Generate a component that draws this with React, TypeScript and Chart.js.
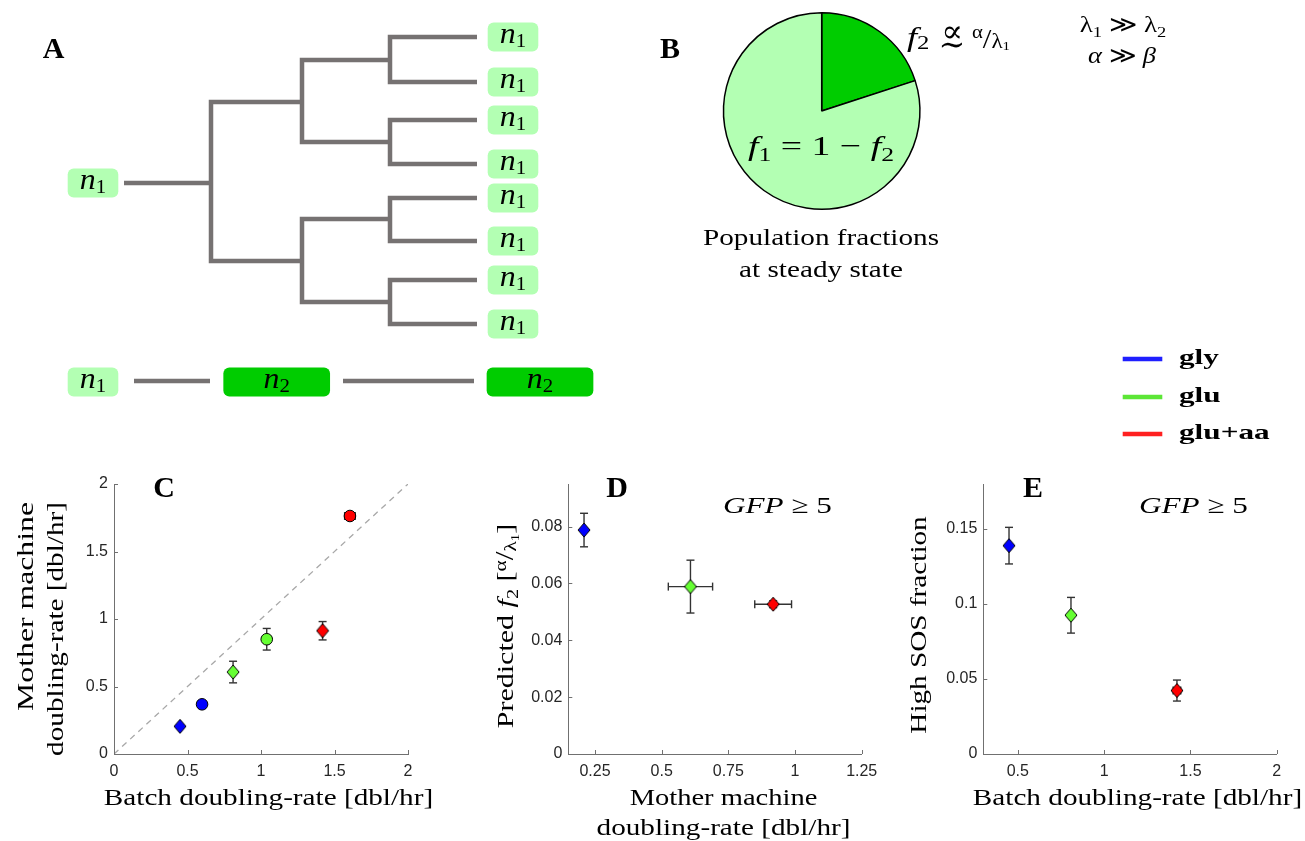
import React, { useEffect, useRef } from 'react';
import { Chart, registerables } from 'chart.js';

Chart.register(...registerables);

const SERIF = '"Liberation Serif", "DejaVu Serif", serif';
const SANS = '"Liberation Sans", "DejaVu Sans", Arial, sans-serif';
const AXIS = '#707070';
const TICK_TEXT = '#262626';
const TREE_GRAY = '#767272';
const LIGHT_GREEN = '#b3ffb3';
const DARK_GREEN = '#00cc00';

// ---------- Panel A: lineage tree (diagram units) ----------
const treeGenX = [124, 211, 302, 390, 477];
const treeRootY = 183;
const treeGen2Y = [102, 261];
const treeGen3Y = [60, 142, 219, 302];
const treeLeafY = [37, 82, 120, 164, 198, 241, 280, 324];
const rootBoxX = 93;
const leafBoxX = 513;
const bottomRowY = 381;
const bottomLinks = [[134, 210], [343, 474]];
const bottomBoxX = [93, 276.7, 540];
const bottomStates = [1, 2, 2];

// ---------- Panel B: pie ----------
const pieLabels = ['f2', 'f1'];
const pieValues = [0.2, 0.8];
const pieColors = [DARK_GREEN, LIGHT_GREEN];

// ---------- Conditions ----------
const conditions = ['gly', 'glu', 'glu+aa'];
const markerColors = ['#0000ff', '#66ff33', '#ff0000'];
const legendColors = ['#1f1fff', '#5ce636', '#ff2020'];

// ---------- Panel C ----------
const cDiamondX = [0.449, 0.81, 1.419];
const cDiamondY = [0.205, 0.607, 0.913];
const cDiamondXErr = [0, 0, 0];
const cDiamondYErr = [0.012, 0.08, 0.068];
const cCircleX = [0.599, 1.039, 1.605];
const cCircleY = [0.368, 0.85, 1.763];
const cCircleXErr = [0.01, 0.005, 0.036];
const cCircleYErr = [0.02, 0.08, 0.02];
const cIdentity = [0, 2];
const cTicks = [0, 0.5, 1, 1.5, 2];
const cTickLabels = ['0', '0.5', '1', '1.5', '2'];

// ---------- Panel D ----------
const dX = [0.209, 0.608, 0.918];
const dY = [0.0788, 0.0589, 0.0527];
const dXErr = [0.003, 0.083, 0.069];
const dYErr = [0.0059, 0.0093, 0.0012];
const dXTicks = [0.25, 0.5, 0.75, 1, 1.25];
const dXTickLabels = ['0.25', '0.5', '0.75', '1', '1.25'];
const dYTicks = [0, 0.02, 0.04, 0.06, 0.08];
const dYTickLabels = ['0', '0.02', '0.04', '0.06', '0.08'];

// ---------- Panel E ----------
const eX = [0.449, 0.808, 1.422];
const eY = [0.1389, 0.0925, 0.0423];
const eXErr = [0.004, 0.006, 0.022];
const eYErr = [0.0122, 0.0119, 0.007];
const eXTicks = [0.5, 1, 1.5, 2];
const eXTickLabels = ['0.5', '1', '1.5', '2'];
const eYTicks = [0, 0.05, 0.1, 0.15];
const eYTickLabels = ['0', '0.05', '0.1', '0.15'];

// ---------- text helpers ----------
type Seg = { t: string; size: number; italic?: boolean; bold?: boolean; dy?: number; dx?: number };
const R = (t: string, s = 23, dy = 0): Seg => ({ t, size: s, dy });
const I = (t: string, s = 23, dy = 0): Seg => ({ t, size: s, italic: true, dy });
const Bd = (t: string, s = 30): Seg => ({ t, size: s, bold: true });
const Sub = (t: string, s = 23): Seg => ({ t, size: s * 0.68, dy: s * 0.2 });
const fontOf = (s: Seg) => `${s.italic ? 'italic ' : ''}${s.bold ? 'bold ' : ''}${s.size}px ${SERIF}`;

function drawRich(
  ctx: CanvasRenderingContext2D,
  segs: Seg[],
  x: number,
  y: number,
  opt: { align?: 'left' | 'center' | 'right'; stretch?: number; rotate?: boolean; color?: string } = {}
) {
  const stretch = opt.stretch ?? 1.27;
  ctx.save();
  ctx.translate(x, y);
  if (opt.rotate) ctx.rotate(-Math.PI / 2);
  ctx.scale(stretch, 1);
  ctx.fillStyle = opt.color ?? '#000';
  ctx.textBaseline = 'alphabetic';
  ctx.textAlign = 'left';
  let total = 0;
  for (const s of segs) {
    ctx.font = fontOf(s);
    total += ctx.measureText(s.t).width + (s.dx ?? 0);
  }
  let cx = opt.align === 'center' ? -total / 2 : opt.align === 'right' ? -total : 0;
  for (const s of segs) {
    ctx.font = fontOf(s);
    cx += s.dx ?? 0;
    ctx.fillText(s.t, cx, s.dy ?? 0);
    cx += ctx.measureText(s.t).width;
  }
  ctx.restore();
  return total * stretch;
}

function roundRect(ctx: CanvasRenderingContext2D, x: number, y: number, w: number, h: number, r: number) {
  ctx.beginPath();
  ctx.moveTo(x + r, y);
  ctx.lineTo(x + w - r, y);
  ctx.arcTo(x + w, y, x + w, y + r, r);
  ctx.lineTo(x + w, y + h - r);
  ctx.arcTo(x + w, y + h, x + w - r, y + h, r);
  ctx.lineTo(x + r, y + h);
  ctx.arcTo(x, y + h, x, y + h - r, r);
  ctx.lineTo(x, y + r);
  ctx.arcTo(x, y, x + r, y, r);
  ctx.closePath();
}

function makeDiamond(fill: string) {
  const c = document.createElement('canvas');
  c.width = 14;
  c.height = 16;
  const g = c.getContext('2d')!;
  g.beginPath();
  g.moveTo(7, 1);
  g.lineTo(13, 8);
  g.lineTo(7, 15);
  g.lineTo(1, 8);
  g.closePath();
  g.fillStyle = fill;
  g.fill();
  g.strokeStyle = '#000';
  g.lineWidth = 1;
  g.stroke();
  return c;
}

// ---------- plugins ----------
const errorBars = {
  id: 'errorBars',
  beforeDatasetsDraw(chart: any) {
    const { ctx, scales } = chart;
    const x = scales.x;
    const y = scales.y;
    const cap = 4;
    ctx.save();
    ctx.strokeStyle = '#333';
    ctx.lineWidth = 1.4;
    const seg = (x1: number, y1: number, x2: number, y2: number) => {
      ctx.beginPath();
      ctx.moveTo(x1, y1);
      ctx.lineTo(x2, y2);
      ctx.stroke();
    };
    chart.data.datasets.forEach((ds: any) => {
      if (!ds.errY) return;
      ds.data.forEach((p: any, i: number) => {
        const px = x.getPixelForValue(p.x);
        const py = y.getPixelForValue(p.y);
        const ey = ds.errY[i];
        const ex = ds.errX[i];
        if (ey > 0) {
          const y1 = y.getPixelForValue(p.y + ey);
          const y2 = y.getPixelForValue(p.y - ey);
          seg(px, y1, px, y2);
          seg(px - cap, y1, px + cap, y1);
          seg(px - cap, y2, px + cap, y2);
        }
        if (ex > 0) {
          const x1 = x.getPixelForValue(p.x - ex);
          const x2 = x.getPixelForValue(p.x + ex);
          seg(x1, py, x2, py);
          seg(x1, py - cap, x1, py + cap);
          seg(x2, py - cap, x2, py + cap);
        }
      });
    });
    ctx.restore();
  },
};

const inwardTicks = {
  id: 'inwardTicks',
  afterDatasetsDraw(chart: any) {
    const { ctx, chartArea: a, scales } = chart;
    ctx.save();
    ctx.strokeStyle = AXIS;
    ctx.lineWidth = 1;
    scales.x.ticks.forEach((t: any) => {
      const p = Math.round(scales.x.getPixelForValue(t.value)) + 0.5;
      ctx.beginPath();
      ctx.moveTo(p, a.bottom);
      ctx.lineTo(p, a.bottom - 4);
      ctx.stroke();
    });
    scales.y.ticks.forEach((t: any) => {
      const p = Math.round(scales.y.getPixelForValue(t.value)) + 0.5;
      ctx.beginPath();
      ctx.moveTo(a.left, p);
      ctx.lineTo(a.left + 4, p);
      ctx.stroke();
    });
    ctx.restore();
  },
};

function axis(min: number, max: number, ticks: number[], labels: string[], isX: boolean, size: number) {
  return {
    type: 'linear',
    min,
    max,
    afterBuildTicks: (s: any) => {
      s.ticks = ticks.map((v) => ({ value: v }));
    },
    afterFit: (s: any) => {
      if (isX) s.height = size;
      else s.width = size;
    },
    grid: { display: false, drawTicks: false },
    border: { display: true, color: AXIS, width: 1 },
    ticks: {
      autoSkip: false,
      maxRotation: 0,
      padding: isX ? 8 : 6,
      color: TICK_TEXT,
      font: { family: SANS, size: 16 },
      callback: (v: number) => labels[ticks.indexOf(v)],
    },
  };
}

function pts(xs: number[], ys: number[]) {
  return xs.map((v, i) => ({ x: v, y: ys[i] }));
}

function scatterBase(datasets: any[], scales: any, padRight: number, texts: (ctx: CanvasRenderingContext2D) => void) {
  return {
    type: 'scatter',
    data: { datasets },
    options: {
      responsive: false,
      maintainAspectRatio: false,
      animation: false,
      events: [],
      layout: { padding: { top: 24, right: padRight, left: 0, bottom: 0 } },
      plugins: { legend: { display: false }, tooltip: { enabled: false } },
      scales,
    },
    plugins: [errorBars, inwardTicks, { id: 'texts', afterDraw: (c: any) => texts(c.ctx) }],
  };
}

// ---------- chart builders ----------
function buildTree() {
  const lines: { x: number; y: number }[][] = [];
  const bracket = (xp: number, xc: number, yt: number, yb: number) =>
    lines.push([
      { x: xc, y: yt },
      { x: xp, y: yt },
      { x: xp, y: yb },
      { x: xc, y: yb },
    ]);
  lines.push([
    { x: treeGenX[0], y: treeRootY },
    { x: treeGenX[1], y: treeRootY },
  ]);
  bracket(treeGenX[1], treeGenX[2], treeGen2Y[0], treeGen2Y[1]);
  treeGen2Y.forEach((_, i) => bracket(treeGenX[2], treeGenX[3], treeGen3Y[2 * i], treeGen3Y[2 * i + 1]));
  treeGen3Y.forEach((_, i) => bracket(treeGenX[3], treeGenX[4], treeLeafY[2 * i], treeLeafY[2 * i + 1]));
  bottomLinks.forEach(([a, b]) =>
    lines.push([
      { x: a, y: bottomRowY },
      { x: b, y: bottomRowY },
    ])
  );
  const datasets = lines.map((data) => ({
    data,
    showLine: true,
    borderColor: TREE_GRAY,
    borderWidth: 4.5,
    borderJoinStyle: 'miter',
    borderCapStyle: 'butt',
    pointRadius: 0,
    tension: 0,
  }));

  const boxes: { cx: number; cy: number; state: number }[] = [
    { cx: rootBoxX, cy: treeRootY, state: 1 },
    ...treeLeafY.map((y) => ({ cx: leafBoxX, cy: y, state: 1 })),
    ...bottomBoxX.map((x, i) => ({ cx: x, cy: bottomRowY + 1, state: bottomStates[i] })),
  ];

  return {
    type: 'scatter',
    data: { datasets },
    options: {
      responsive: false,
      maintainAspectRatio: false,
      animation: false,
      events: [],
      layout: { padding: 0 },
      plugins: { legend: { display: false }, tooltip: { enabled: false } },
      scales: {
        x: { type: 'linear', min: 0, max: 620, display: false },
        y: { type: 'linear', min: 0, max: 420, reverse: true, display: false },
      },
    },
    plugins: [
      {
        id: 'boxes',
        afterDatasetsDraw(chart: any) {
          const { ctx, scales } = chart;
          const X = (v: number) => scales.x.getPixelForValue(v);
          const Y = (v: number) => scales.y.getPixelForValue(v);
          boxes.forEach((b) => {
            const w = b.state === 1 ? 50.6 : 106.7;
            const h = 29;
            const x0 = X(b.cx - w / 2);
            const y0 = Y(b.cy - h / 2);
            ctx.save();
            roundRect(ctx, x0, y0, X(b.cx + w / 2) - x0, Y(b.cy + h / 2) - y0, 6);
            ctx.fillStyle = b.state === 1 ? LIGHT_GREEN : DARK_GREEN;
            ctx.fill();
            ctx.restore();
            drawRich(ctx, [I('n', 29), { t: String(b.state), size: 19, dy: 4 }], X(b.cx), Y(b.cy) + 5.5, {
              align: 'center',
              stretch: 1.1,
            });
          });
          drawRich(ctx, [Bd('A', 30)], 53.5, 58, { align: 'center', stretch: 1 });
        },
      },
    ],
  };
}

function buildPie() {
  return {
    type: 'pie',
    data: {
      labels: pieLabels,
      datasets: [{ data: pieValues, backgroundColor: pieColors, borderColor: '#000', borderWidth: 1.5 }],
    },
    options: {
      responsive: false,
      maintainAspectRatio: false,
      animation: false,
      events: [],
      layout: { padding: { left: 102.7, top: 12, right: 384.3, bottom: 250 } },
      plugins: { legend: { display: false }, tooltip: { enabled: false } },
    },
    plugins: [
      {
        id: 'texts',
        afterDraw(chart: any) {
          const ctx = chart.ctx as CanvasRenderingContext2D;
          drawRich(ctx, [Bd('B', 30)], 50, 58, { align: 'center', stretch: 1 });
          // f2 ≾ α/λ1
          drawRich(ctx, [I('f', 28), { t: '2', size: 19, dy: 3 }], 287, 46, { stretch: 1.3 });
          drawRich(ctx, [R('∝', 32)], 332, 42, { align: 'center', stretch: 1.0 });
          drawRich(ctx, [R('∼', 32)], 332, 55, { align: 'center', stretch: 1.0 });
          drawRich(
            ctx,
            [R('α', 18, -9), R('/', 27, 1), R('λ', 20, 1), { t: '1', size: 13, dy: 3 }],
            352,
            47,
            { stretch: 1.15 }
          );
          // inside pie
          drawRich(ctx, [I('f', 28), Sub('1', 28), R(' = 1 − ', 28), I('f', 28), Sub('2', 28)], 201, 155, {
            align: 'center',
            stretch: 1.35,
          });
          drawRich(ctx, [R('Population fractions')], 201, 245, { align: 'center' });
          drawRich(ctx, [R('at steady state')], 201, 277, { align: 'center' });
          drawRich(ctx, [R('λ'), Sub('1'), R(' ≫ '), R('λ'), Sub('2')], 503, 32, { align: 'center', stretch: 1.18 });
          drawRich(ctx, [I('α'), R(' ≫ '), I('β')], 502, 63, { align: 'center', stretch: 1.15 });
          // legend
          const ly = [359, 397, 434];
          conditions.forEach((name, i) => {
            ctx.save();
            ctx.strokeStyle = legendColors[i];
            ctx.lineWidth = 4.5;
            ctx.beginPath();
            ctx.moveTo(502.7, ly[i]);
            ctx.lineTo(542.3, ly[i]);
            ctx.stroke();
            ctx.restore();
            drawRich(ctx, [Bd(name, 22)], 559, ly[i] + 5, { stretch: 1.42 });
          });
        },
      },
    ],
  };
}

function buildC() {
  const diamonds = markerColors.map(makeDiamond);
  const datasets = [
    {
      data: pts(cDiamondX, cDiamondY),
      errX: cDiamondXErr,
      errY: cDiamondYErr,
      pointStyle: diamonds,
      pointRadius: 7,
    },
    {
      data: pts(cCircleX, cCircleY),
      errX: cCircleXErr,
      errY: cCircleYErr,
      pointStyle: 'circle',
      pointRadius: 5.8,
      pointBackgroundColor: markerColors,
      pointBorderColor: '#000',
      pointBorderWidth: 1,
    },
    {
      data: pts(cIdentity, cIdentity),
      showLine: true,
      borderColor: '#a8a8a8',
      borderWidth: 1.3,
      borderDash: [6, 5],
      pointRadius: 0,
    },
  ];
  return scatterBase(
    datasets,
    {
      x: axis(0, 2, cTicks, cTickLabels, true, 87),
      y: axis(0, 2, cTicks, cTickLabels, false, 114),
    },
    32,
    (ctx) => {
      drawRich(ctx, [Bd('C', 30)], 164, 36.7, { align: 'center', stretch: 1 });
      drawRich(ctx, [R('Batch doubling-rate [dbl/hr]')], 268.5, 345, { align: 'center' });
      drawRich(ctx, [R('Mother machine')], 33, 42, { align: 'right', rotate: true, stretch: 1.38 });
      drawRich(ctx, [R('doubling-rate [dbl/hr]')], 63, 42, { align: 'right', rotate: true });
    }
  );
}

function buildD() {
  const diamonds = markerColors.map(makeDiamond);
  return scatterBase(
    [{ data: pts(dX, dY), errX: dXErr, errY: dYErr, pointStyle: diamonds, pointRadius: 7 }],
    {
      x: axis(0.15, 1.25, dXTicks, dXTickLabels, true, 87),
      y: axis(0, 0.095, dYTicks, dYTickLabels, false, 88.3),
    },
    38.3,
    (ctx) => {
      drawRich(ctx, [Bd('D', 30)], 137, 36.7, { align: 'center', stretch: 1 });
      drawRich(ctx, [I('GFP', 24), R(' ≥ 5', 24)], 243, 52.7, { stretch: 1.3 });
      drawRich(ctx, [R('Mother machine')], 243.5, 345, { align: 'center', stretch: 1.24 });
      drawRich(ctx, [R('doubling-rate [dbl/hr]')], 243.5, 375, { align: 'center' });
      drawRich(
        ctx,
        [
          R('Predicted ', 24),
          I('f', 24),
          Sub('2', 24),
          R(' [', 24),
          R('α', 17, -7),
          R('/', 25),
          R('λ', 17, 3),
          { t: '1', size: 12, dy: 6 },
          R(']', 24),
        ],
        33,
        166,
        { align: 'center', rotate: true, stretch: 1.25 }
      );
    }
  );
}

function buildE() {
  const diamonds = markerColors.map(makeDiamond);
  return scatterBase(
    [{ data: pts(eX, eY), errX: eXErr, errY: eYErr, pointStyle: diamonds, pointRadius: 7 }],
    {
      x: axis(0.3, 2, eXTicks, eXTickLabels, true, 87),
      y: axis(0, 0.18, eYTicks, eYTickLabels, false, 93.3),
    },
    28.3,
    (ctx) => {
      drawRich(ctx, [Bd('E', 30)], 143, 36.7, { align: 'center', stretch: 1 });
      drawRich(ctx, [I('GFP', 24), R(' ≥ 5', 24)], 249, 52.7, { stretch: 1.3 });
      drawRich(ctx, [R('Batch doubling-rate [dbl/hr]')], 247.5, 345, { align: 'center' });
      drawRich(ctx, [R('High SOS fraction')], 36, 165, { align: 'center', rotate: true });
    }
  );
}

function ChartBox({ left, top, width, height, build }: { left: number; top: number; width: number; height: number; build: () => any }) {
  const ref = useRef<HTMLCanvasElement>(null);
  useEffect(() => {
    const chart = new Chart(ref.current as HTMLCanvasElement, build());
    return () => chart.destroy();
  }, []);
  return (
    <canvas
      ref={ref}
      width={width}
      height={height}
      style={{ position: 'absolute', left, top, width, height, display: 'block' }}
    />
  );
}

export default function App() {
  return (
    <div style={{ position: 'absolute', left: 0, top: 0, width: 1305, height: 841, background: '#fff', overflow: 'hidden' }}>
      <ChartBox left={0} top={0} width={620} height={420} build={buildTree} />
      <ChartBox left={620} top={0} width={685} height={460} build={buildPie} />
      <ChartBox left={0} top={460} width={440} height={381} build={buildC} />
      <ChartBox left={480} top={460} width={420} height={381} build={buildD} />
      <ChartBox left={890} top={460} width={415} height={381} build={buildE} />
    </div>
  );
}
